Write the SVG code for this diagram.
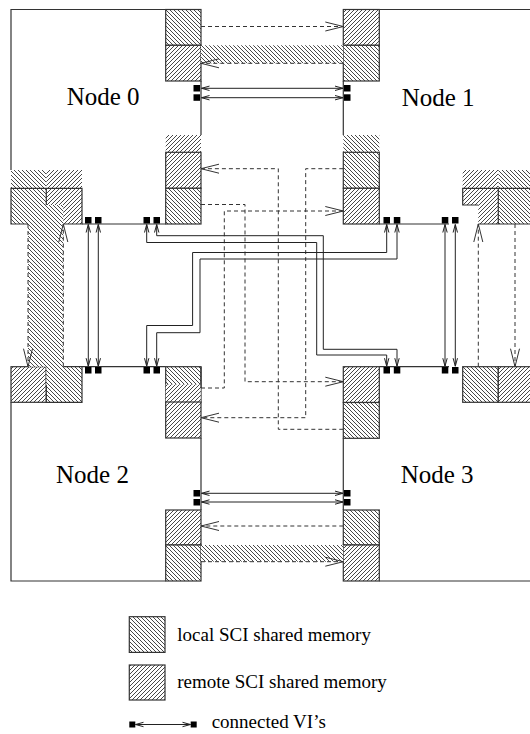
<svg xmlns="http://www.w3.org/2000/svg" width="530" height="734" viewBox="0 0 530 734">
<style>
.ol{fill:none;stroke:#333;stroke-width:1.2}
.box{stroke:#333;stroke-width:1.2}
.loc{fill:url(#loc)}
.rem{fill:url(#rem)}
.strip{stroke:none}
.sq{fill:#000}
.dash{fill:none;stroke:#333;stroke-width:1;stroke-dasharray:4,3;marker-end:url(#da)}
.vi{fill:none;stroke:#222;stroke-width:1;marker-start:url(#va);marker-end:url(#va)}
.lbl{font-family:"Liberation Serif","Times New Roman",serif;font-size:25px;fill:#000}
.leg{font-family:"Liberation Serif","Times New Roman",serif;font-size:19px;fill:#000}
</style>
<defs>
<pattern id="loc" width="4" height="4" patternUnits="userSpaceOnUse"><rect width="4" height="4" fill="#fff"/><path d="M0,0L4,4M-1,3L1,5M3,-1L5,1" stroke="#333" stroke-width="0.9"/></pattern>
<pattern id="rem" width="4" height="4" patternUnits="userSpaceOnUse"><rect width="4" height="4" fill="#fff"/><path d="M0,4L4,0M-1,1L1,-1M3,5L5,3" stroke="#333" stroke-width="0.9"/></pattern>
<marker id="da" markerUnits="userSpaceOnUse" markerWidth="24" markerHeight="14" viewBox="-20 -7 24 14" refX="0" refY="0" orient="auto-start-reverse"><path d="M-18,-4.5L0,0L-18,4.5" fill="none" stroke="#333" stroke-width="1"/></marker>
<marker id="va" markerUnits="userSpaceOnUse" markerWidth="12" markerHeight="8" viewBox="-10 -4 12 8" refX="0" refY="0" orient="auto-start-reverse"><path d="M-8,-2.2L0,0L-8,2.2" fill="none" stroke="#222" stroke-width="1"/></marker>
</defs>
<rect width="530" height="734" fill="#fff"/>

<!-- Node 0 -->
<g id="node0">
<path class="ol" d="M165.7,9.5H11V170M201,81V135M82,224H165.7"/>
<rect class="box loc" x="165.7" y="9.5" width="35.3" height="35.8"/>
<rect class="box rem" x="165.7" y="45.3" width="35.3" height="35.7"/>
<rect class="strip rem" x="165.7" y="135" width="35.3" height="17.3"/>
<rect class="box rem" x="165.7" y="152.3" width="35.3" height="36"/>
<rect class="box loc" x="165.7" y="188.3" width="35.3" height="35.7"/>
<rect class="strip loc" x="11" y="170" width="35.3" height="18.3"/>
<rect class="strip rem" x="46.3" y="170" width="35.7" height="18.3"/>
<rect class="strip loc" x="11" y="188.3" width="35.3" height="35.7"/>
<rect class="strip rem" x="46.3" y="188.3" width="35.7" height="35.7"/>
<path class="ol" d="M28,224H11V188.3H82V224H63.3M46.3,188.3V205"/>
<rect class="sq" x="193.5" y="85" width="6.5" height="6.5"/>
<rect class="sq" x="193.5" y="94.3" width="6.5" height="6.5"/>
<rect class="sq" x="85" y="217" width="6.5" height="6.5"/>
<rect class="sq" x="95" y="217" width="6.5" height="6.5"/>
<rect class="sq" x="143.5" y="217" width="6.5" height="6.5"/>
<rect class="sq" x="153.5" y="217" width="6.5" height="6.5"/>
<text class="lbl" x="66.7" y="105">Node 0</text>
</g>

<!-- Node 1 -->
<g id="node1">
<path class="ol" d="M379.3,9.5H530M343.3,81V135M379.3,224H449"/>
<rect class="box rem" x="343.3" y="9.5" width="36" height="35.8"/>
<rect class="box loc" x="343.3" y="45.3" width="36" height="35.7"/>
<rect class="strip loc" x="343.3" y="135" width="36" height="17.3"/>
<rect class="box loc" x="343.3" y="152.3" width="36" height="36"/>
<rect class="box rem" x="343.3" y="188.3" width="36" height="35.7"/>
<rect class="strip rem" x="462.7" y="170" width="35.6" height="18.3"/>
<rect class="strip loc" x="498.3" y="170" width="31.7" height="18.3"/>
<rect class="strip rem" x="462.7" y="188.3" width="35.6" height="16.7"/>
<rect class="strip rem" x="478.3" y="205" width="20" height="19"/>
<rect class="strip loc" x="498.3" y="188.3" width="31.7" height="35.7"/>
<path class="ol" d="M478.3,205H462.7V188.3H530M498.3,188.3V224M478.3,224H530"/>
<rect class="sq" x="344" y="85" width="6.5" height="6.5"/>
<rect class="sq" x="344" y="94.3" width="6.5" height="6.5"/>
<rect class="sq" x="383.5" y="217" width="6.5" height="6.5"/>
<rect class="sq" x="393.8" y="217" width="6.5" height="6.5"/>
<rect class="sq" x="441.8" y="217" width="6.5" height="6.5"/>
<rect class="sq" x="452" y="217" width="6.5" height="6.5"/>
<text class="lbl" x="401.7" y="106">Node 1</text>
</g>

<!-- Node 2 -->
<g id="node2">
<path class="ol" d="M82,366.7H165.7M11,402.3V581H165.7M201,438V510"/>
<rect class="box loc" x="165.7" y="366.7" width="35.3" height="35.6"/>
<rect class="strip rem" x="165.7" y="384.3" width="35" height="17.7"/>
<path class="ol" d="M201,366.7V388"/>
<rect class="box rem" x="165.7" y="402" width="35.3" height="36"/>
<rect class="box rem" x="165.7" y="510" width="35.3" height="35"/>
<rect class="box loc" x="165.7" y="545" width="35.3" height="36"/>
<rect class="box rem" x="11" y="366.7" width="35.3" height="35.6"/>
<rect class="strip loc" x="46.3" y="366.7" width="35.7" height="35.6"/>
<path class="ol" d="M63.3,366.7H82V402.3H46.3V366.7"/>
<rect class="sq" x="193.5" y="490" width="6.5" height="6.5"/>
<rect class="sq" x="193.5" y="499" width="6.5" height="6.5"/>
<rect class="sq" x="85" y="367" width="6.5" height="6.5"/>
<rect class="sq" x="95" y="367" width="6.5" height="6.5"/>
<rect class="sq" x="143.5" y="367" width="6.5" height="6.5"/>
<rect class="sq" x="153.5" y="367" width="6.5" height="6.5"/>
<text class="lbl" x="56" y="482.7">Node 2</text>
</g>

<!-- Node 3 -->
<g id="node3">
<path class="ol" d="M379.3,366.7H449M343.3,438.3V510M379.3,581H530"/>
<rect class="box rem" x="343.3" y="366.7" width="36" height="35.8"/>
<rect class="box loc" x="343.3" y="402.5" width="36" height="35.8"/>
<rect class="box loc" x="343.3" y="510" width="36" height="35"/>
<rect class="box rem" x="343.3" y="545" width="36" height="36"/>
<rect class="box loc" x="462.7" y="366.7" width="35.6" height="35.6"/>
<rect class="box rem" x="498.3" y="366.7" width="32.7" height="35.6"/>
<rect class="sq" x="344" y="490" width="6.5" height="6.5"/>
<rect class="sq" x="344" y="499" width="6.5" height="6.5"/>
<rect class="sq" x="383.5" y="367" width="6.5" height="6.5"/>
<rect class="sq" x="393.8" y="367" width="6.5" height="6.5"/>
<rect class="sq" x="441.8" y="367" width="6.5" height="6.5"/>
<rect class="sq" x="452" y="367" width="6.5" height="6.5"/>
<text class="lbl" x="400.7" y="482.7">Node 3</text>
</g>

<!-- connectors -->
<g id="connectors">
<rect class="strip loc" x="201" y="45.3" width="142.3" height="18"/>
<rect class="strip loc" x="201" y="545" width="142.3" height="16.7"/>
<path class="strip loc" d="M28,205H63.3V385H46.3V366.7H28Z"/>
<path class="dash" d="M201,26.5H343.3"/>
<path class="dash" d="M343.3,63.3H201"/>
<path class="dash" d="M343.3,526H201"/>
<path class="dash" d="M201,561.7H343.3"/>
<path class="dash" d="M28,224V366.7"/>
<path class="dash" d="M63.3,366.7V224"/>
<path class="dash" d="M478.3,366.7V224"/>
<path class="dash" d="M515,224V366.7"/>
<path class="dash" d="M201,204.5H245V381.7H343.3"/>
<path class="dash" d="M201,388H224.3V211H343.3"/>
<path class="dash" d="M343.3,429.3H278.3V168.7H201"/>
<path class="dash" d="M343.3,168.7H305.7V417.7H201"/>
<path class="vi" d="M201.5,88.3H343"/>
<path class="vi" d="M201.5,97.7H343"/>
<path class="vi" d="M201.5,493.3H343"/>
<path class="vi" d="M201.5,502H343"/>
<path class="vi" d="M88.3,224.5V366.2"/>
<path class="vi" d="M98.3,224.5V366.2"/>
<path class="vi" d="M445,224.5V366.2"/>
<path class="vi" d="M455.3,224.5V366.2"/>
<path class="vi" d="M146.7,224.5V242.5H316.7V355H386.7V366.2"/>
<path class="vi" d="M156.7,224.5V235.7H323.3V349.3H397V366.2"/>
<path class="vi" d="M386.7,224.5V252.5H192.6V325.5H146.7V366.2"/>
<path class="vi" d="M397,224.5V259H200V332.7H156.7V366.2"/>
</g>

<!-- legend -->
<g id="legend">
<rect class="box loc" x="129.3" y="616.7" width="35.7" height="35.7"/>
<text class="leg" x="177.3" y="640.7">local SCI shared memory</text>
<rect class="box rem" x="129.3" y="665" width="35.7" height="35"/>
<text class="leg" x="177.3" y="688.3">remote SCI shared memory</text>
<rect class="sq" x="129.3" y="721.5" width="6" height="6"/>
<rect class="sq" x="190.7" y="721.5" width="6" height="6"/>
<path class="vi" d="M135.5,724.5H190.5"/>
<text class="leg" x="211.7" y="728.3">connected VI’s</text>
</g>
</svg>
